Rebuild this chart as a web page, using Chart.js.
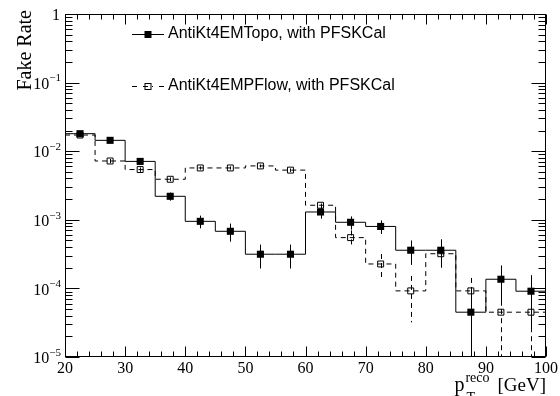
<!DOCTYPE html>
<html>
<head>
<meta charset="utf-8">
<script src="https://cdn.jsdelivr.net/npm/chart.js@4"></script>
<style>
    html, body { margin: 0; padding: 0; background: #fff; }
    #wrap { width: 560px; height: 396px; }
</style>
</head>
<body>
<div id="wrap"><canvas id="fakeRate" width="560" height="396"></canvas></div>
<script>
// Histogram binning (GeV)
const binEdges = [20, 25, 30, 35, 40, 45, 50, 55, 60, 65, 70, 75, 80, 85, 90, 95, 100];
const binCenters = [22.5, 27.5, 32.5, 37.5, 42.5, 47.5, 52.5, 57.5, 62.5, 67.5, 72.5, 77.5, 82.5, 87.5, 92.5, 97.5];

// AntiKt4EMTopo, with PFSKCal
const topoRate = [0.018, 0.0144, 0.0071, 0.0022, 0.00095, 0.00068, 0.000315, 0.000315,
    0.0013, 0.00092, 0.0008, 0.00036, 0.00036, 0.000045, 0.000136, 0.000091];
const topoErr = [0.0009, 0.0008, 0.0004, 0.0003, 0.0002, 0.0002, 0.00012, 0.00012,
    0.00026, 0.0002, 0.00018, 0.00014, 0.00016, 0.000046, 0.00008, 0.000065];

// AntiKt4EMPFlow, with PFSKCal
const pflowRate = [0.0172, 0.0072, 0.0054, 0.0039, 0.0057, 0.0057, 0.0061, 0.0053,
    0.00163, 0.00055, 0.000227, 0.000092, 0.00032, 0.000092, 0.000045, 0.000045];
const pflowErr = [0.0008, 0.0005, 0.0004, 0.00025, 0.0003, 0.0003, 0.0003, 0.0003,
    0.0001, 0.00015, 0.00009, 0.00006, 0.0001, 0.00005, 0.000046, 0.000046];

// Axis ticks
const xMajorTicks = [20, 30, 40, 50, 60, 70, 80, 90, 100];
const yDecades = [1, 1e-1, 1e-2, 1e-3, 1e-4, 1e-5];
const yDecadeExp = ['', '\u22121', '\u22122', '\u22123', '\u22124', '\u22125'];

const seriesNames = ['AntiKt4EMTopo, with PFSKCal', 'AntiKt4EMPFlow, with PFSKCal'];

const DASH = [5, 4];
const SERIF = '"Liberation Serif", "DejaVu Serif", serif';
const SANS = '"Liberation Sans", Arial, sans-serif';

// histogram step points: value of bin i held from edge i to edge i+1
function stepPoints(values) {
    return binEdges.map((e, i) => ({ x: e, y: values[Math.min(i, values.length - 1)] }));
}
function centerPoints(values) {
    return binCenters.map((c, i) => ({ x: c, y: values[i] }));
}

const rootStyle = {
    id: 'rootStyle',
    beforeDatasetsDraw(chart) {
        const { ctx, chartArea: a, scales: { x, y } } = chart;
        ctx.save();
        ctx.beginPath();
        ctx.rect(a.left, a.top, a.right - a.left, a.bottom - a.top);
        ctx.clip();
        ctx.strokeStyle = '#000';
        ctx.lineWidth = 1;
        const sets = [[topoRate, topoErr, []], [pflowRate, pflowErr, DASH]];
        sets.forEach(([vals, errs, dash]) => {
            ctx.setLineDash(dash);
            vals.forEach((v, i) => {
                const px = Math.round(x.getPixelForValue(binCenters[i])) + 0.5;
                const hi = y.getPixelForValue(v + errs[i]);
                const lo = v - errs[i] > 0 ? y.getPixelForValue(v - errs[i]) : a.bottom;
                ctx.beginPath();
                ctx.moveTo(px, hi);
                ctx.lineTo(px, lo);
                ctx.stroke();
            });
        });
        ctx.restore();
    },
    afterDraw(chart) {
        const { ctx, chartArea: a, scales: { x, y } } = chart;
        const L = a.left + 0.5, R = a.right - 0.5, T = a.top + 0.5, B = a.bottom - 0.5;
        ctx.save();
        ctx.strokeStyle = '#000';
        ctx.lineWidth = 1;
        ctx.setLineDash([]);
        // frame
        ctx.strokeRect(L, T, R - L, B - T);

        // x ticks, bottom and top
        ctx.beginPath();
        for (let v = 20; v <= 100; v += 2) {
            const px = Math.round(x.getPixelForValue(v)) + 0.5;
            const len = v % 10 === 0 ? 10 : 5;
            ctx.moveTo(px, B); ctx.lineTo(px, B - len);
            ctx.moveTo(px, T); ctx.lineTo(px, T + len);
        }
        // y ticks, left and right
        for (let d = 0; d < 5; d++) {
            const base = Math.pow(10, -5 + d);
            for (let m = 1; m <= 9; m++) {
                const py = Math.round(y.getPixelForValue(base * m)) + 0.5;
                const len = m === 1 ? 14 : 7;
                ctx.moveTo(L, py); ctx.lineTo(L + len, py);
                ctx.moveTo(R, py); ctx.lineTo(R - len, py);
            }
        }
        const pyTop = Math.round(y.getPixelForValue(1)) + 0.5;
        ctx.moveTo(L, pyTop); ctx.lineTo(L + 14, pyTop);
        ctx.moveTo(R, pyTop); ctx.lineTo(R - 14, pyTop);
        ctx.stroke();

        // x tick labels
        ctx.fillStyle = '#000';
        ctx.font = '16px ' + SERIF;
        ctx.textAlign = 'center';
        ctx.textBaseline = 'middle';
        xMajorTicks.forEach(v => {
            ctx.fillText(String(v), x.getPixelForValue(v), a.bottom + 12);
        });

        // y tick labels 10^n
        yDecades.forEach((v, i) => {
            const py = y.getPixelForValue(v) + 2;
            ctx.textBaseline = 'middle';
            if (v === 1) {
                ctx.font = '16px ' + SERIF;
                ctx.textAlign = 'right';
                ctx.fillText('1', 60, py);
                return;
            }
            ctx.font = '11px ' + SERIF;
            ctx.textAlign = 'right';
            const exp = yDecadeExp[i];
            const ew = ctx.measureText(exp).width;
            ctx.fillText(exp, 61, py - 6);
            ctx.font = '16px ' + SERIF;
            ctx.fillText('10', 61 - ew, py);
        });

        // y title
        ctx.save();
        ctx.translate(26, 10);
        ctx.rotate(-Math.PI / 2);
        ctx.font = '20px ' + SERIF;
        ctx.textAlign = 'right';
        ctx.textBaseline = 'middle';
        ctx.fillText('Fake Rate', 0, 0);
        ctx.restore();

        // x title: p_T^reco [GeV], right aligned at the axis end
        ctx.textAlign = 'left';
        ctx.textBaseline = 'alphabetic';
        ctx.font = '19px ' + SERIF;
        const unit = '[GeV]';
        const uw = ctx.measureText(unit).width;
        ctx.fillText(unit, a.right - uw, 391);
        ctx.font = '14px ' + SERIF;
        const sw = ctx.measureText('reco').width;
        const xs = a.right - uw - 8 - sw;
        ctx.fillText('reco', xs, 382);
        ctx.fillText('T', xs + 1, 402);
        ctx.font = '20px ' + SERIF;
        const pw = ctx.measureText('p').width;
        ctx.fillText('p', xs - pw - 1, 391);

        // legend
        const items = [
            { y: 34.5, dash: [], filled: true },
            { y: 86.5, dash: DASH, filled: false }
        ];
        items.forEach((it, i) => {
            ctx.setLineDash(it.dash);
            ctx.beginPath();
            if (it.filled) {
                ctx.moveTo(132, it.y); ctx.lineTo(164, it.y);
            } else {
                ctx.moveTo(132, it.y); ctx.lineTo(137, it.y);
                ctx.moveTo(159, it.y); ctx.lineTo(164, it.y);
                ctx.moveTo(143, it.y); ctx.lineTo(153, it.y);
            }
            ctx.stroke();
            ctx.setLineDash([]);
            if (it.filled) {
                ctx.fillRect(144.5, it.y - 3.5, 7, 7);
            } else {
                ctx.strokeRect(145, it.y - 3, 6, 6);
            }
            ctx.font = '16px ' + SANS;
            ctx.textAlign = 'left';
            ctx.textBaseline = 'middle';
            ctx.fillText(seriesNames[i], 168, it.y - 0.5);
        });
        ctx.restore();
    }
};

const ctx = document.getElementById('fakeRate').getContext('2d');
new Chart(ctx, {
    type: 'scatter',
    data: {
        datasets: [
            {
                label: seriesNames[0] + ' markers',
                data: centerPoints(topoRate),
                pointStyle: 'rect',
                pointRadius: 5,
                backgroundColor: '#000',
                borderColor: '#000',
                borderWidth: 0,
                showLine: false,
                order: 1
            },
            {
                label: seriesNames[1] + ' markers',
                data: centerPoints(pflowRate),
                pointStyle: 'rect',
                pointRadius: 4.2,
                backgroundColor: 'rgba(0,0,0,0)',
                borderColor: '#000',
                borderWidth: 1,
                showLine: false,
                order: 2
            },
            {
                label: seriesNames[0],
                data: stepPoints(topoRate),
                showLine: true,
                stepped: true,
                borderColor: '#000',
                borderWidth: 1,
                pointRadius: 0,
                fill: false,
                order: 3
            },
            {
                label: seriesNames[1],
                data: stepPoints(pflowRate),
                showLine: true,
                stepped: true,
                borderColor: '#000',
                borderWidth: 1,
                borderDash: DASH,
                pointRadius: 0,
                fill: false,
                order: 4
            }
        ]
    },
    options: {
        responsive: false,
        animation: false,
        devicePixelRatio: 1,
        layout: { padding: { left: 65, right: 14, top: 14, bottom: 39 } },
        plugins: {
            legend: { display: false },
            tooltip: { enabled: false }
        },
        scales: {
            x: { type: 'linear', min: 20, max: 100, display: false },
            y: { type: 'logarithmic', min: 1e-5, max: 1, display: false }
        }
    },
    plugins: [rootStyle]
});
</script>
</body>
</html>
